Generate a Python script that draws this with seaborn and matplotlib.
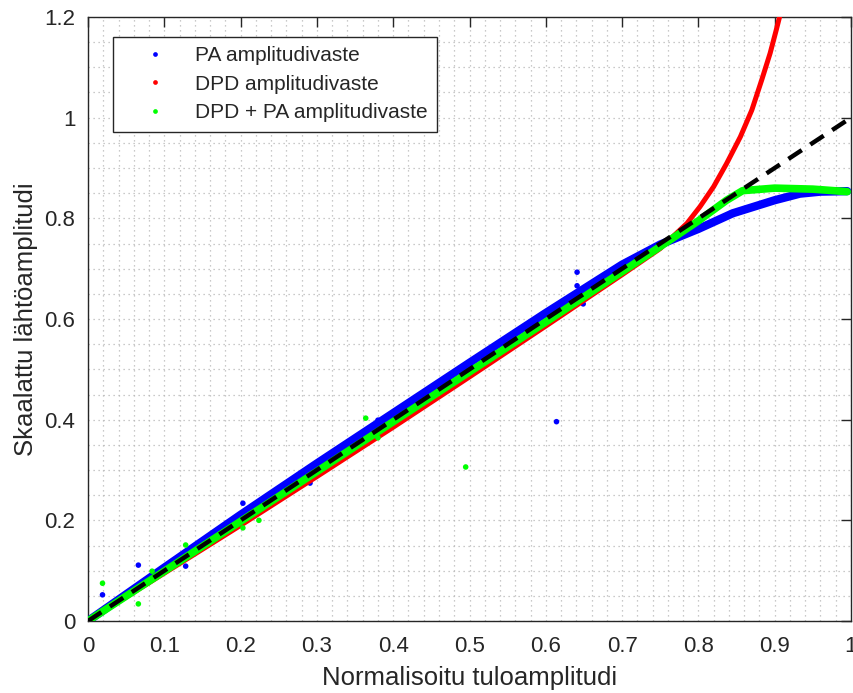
import numpy as np
import pandas as pd
import matplotlib
matplotlib.use("Agg")
import matplotlib.pyplot as plt
from matplotlib.lines import Line2D
from matplotlib.ticker import MultipleLocator
import seaborn as sns

# ---- data ----
pa_x = [0.0, 0.1, 0.2, 0.3, 0.4, 0.5, 0.6, 0.7, 0.75, 0.8, 0.845, 0.9, 0.933, 0.96, 0.995]
pa_y = [0.0, 0.106, 0.211, 0.313, 0.413, 0.513, 0.612, 0.708, 0.748, 0.779, 0.810, 0.836, 0.849, 0.853, 0.854]

dpd_x = [0.0, 0.1, 0.2, 0.3, 0.4, 0.5, 0.6, 0.7, 0.75, 0.785, 0.802, 0.820, 0.837,
         0.855, 0.870, 0.883, 0.894, 0.902, 0.907]
dpd_y = [0.0, 0.095, 0.190, 0.287, 0.385, 0.485, 0.586, 0.688, 0.740, 0.790, 0.823, 0.863, 0.909,
         0.962, 1.015, 1.075, 1.128, 1.174, 1.204]

dpdpa_x = [0.0, 0.1, 0.2, 0.3, 0.4, 0.5, 0.6, 0.7, 0.75, 0.8, 0.837, 0.858, 0.9, 0.95, 0.995]
dpdpa_y = [0.0, 0.099, 0.198, 0.297, 0.396, 0.495, 0.594, 0.694, 0.744, 0.795, 0.836, 0.855, 0.860, 0.858, 0.853]

pa_out_x = [0.019, 0.066, 0.128, 0.203, 0.291, 0.380, 0.614, 0.641, 0.641, 0.649]
pa_out_y = [0.052, 0.111, 0.109, 0.234, 0.274, 0.399, 0.396, 0.693, 0.666, 0.630]

dpdpa_out_x = [0.019, 0.066, 0.084, 0.128, 0.203, 0.224, 0.364, 0.380, 0.495]
dpdpa_out_y = [0.075, 0.034, 0.099, 0.151, 0.185, 0.200, 0.403, 0.364, 0.306]

ideal_x = [0.0, 1.0]
ideal_y = [0.0, 1.0]

labels = ["PA amplitudivaste", "DPD amplitudivaste", "DPD + PA amplitudivaste"]
x_label = "Normalisoitu tuloamplitudi"
y_label = "Skaalattu lähtöamplitudi"

# ---- style ----
sns.set_theme(style="white")
plt.rcParams["font.family"] = ["Liberation Sans", "DejaVu Sans"]
dark = "#262626"

fig = plt.figure(figsize=(8.54, 6.93), dpi=100)
ax = fig.add_axes([88 / 854, 72 / 693, 763 / 854, 604 / 693])

blue = "#0000ff"
red = "#ff0000"
green = "#00ff00"

pa_df = pd.DataFrame({"x": pa_x, "y": pa_y})
dpd_df = pd.DataFrame({"x": dpd_x, "y": dpd_y})
dpdpa_df = pd.DataFrame({"x": dpdpa_x, "y": dpdpa_y})

sns.lineplot(data=pa_df, x="x", y="y", ax=ax, color=blue, lw=6.0,
             sort=False, estimator=None, solid_capstyle="round",
             solid_joinstyle="round", zorder=3)
sns.scatterplot(x=pa_out_x, y=pa_out_y, ax=ax, color=blue, s=16,
                edgecolor="none", zorder=3)
sns.lineplot(data=dpd_df, x="x", y="y", ax=ax, color=red, lw=3.6,
             sort=False, estimator=None, solid_capstyle="round",
             solid_joinstyle="round", zorder=4)
sns.lineplot(data=dpdpa_df, x="x", y="y", ax=ax, color=green, lw=5.5,
             sort=False, estimator=None, solid_capstyle="round",
             solid_joinstyle="round", zorder=5)
sns.scatterplot(x=dpdpa_out_x, y=dpdpa_out_y, ax=ax, color=green, s=16,
                edgecolor="none", zorder=5)
ax.plot(ideal_x, ideal_y, color="black", lw=3.2, dashes=(3.6, 2.3), zorder=6)

ax.set_xlim(0, 1)
ax.set_ylim(0, 1.2)
ax.xaxis.set_major_locator(MultipleLocator(0.1))
ax.yaxis.set_major_locator(MultipleLocator(0.2))
ax.xaxis.set_minor_locator(MultipleLocator(0.02))
ax.yaxis.set_minor_locator(MultipleLocator(0.05))
ax.xaxis.set_major_formatter(plt.FuncFormatter(lambda v, p: f"{v:g}"))
ax.yaxis.set_major_formatter(plt.FuncFormatter(lambda v, p: f"{v:g}"))

ax.grid(which="both", color="#b8b8b8", linestyle=(0, (1, 3)), linewidth=0.9)
ax.set_axisbelow(True)

ax.tick_params(which="major", direction="in", length=7, width=1.0, color=dark,
               top=True, right=True, labelsize=16, labelcolor=dark)
ax.tick_params(axis="x", which="major", pad=11)
ax.tick_params(axis="y", which="major", pad=9)
ax.tick_params(which="minor", length=0, top=True, right=True)
for s in ax.spines.values():
    s.set_color(dark)
    s.set_linewidth(1.0)
    s.set_visible(True)

ax.set_xlabel(x_label, fontsize=18.5, color=dark, labelpad=6.5)
ax.set_ylabel(y_label, fontsize=18.5, color=dark, labelpad=5)

handles = [Line2D([], [], ls="none", marker="o", markersize=3.4, color=c,
                  markeredgecolor="none") for c in (blue, red, green)]
leg = ax.legend(handles, labels, loc="upper left",
                bbox_to_anchor=((113 - 88) / 763, (621 - 37) / 604),
                borderaxespad=0, frameon=True, fancybox=False, fontsize=15,
                handlelength=3.1, handletextpad=0.4, labelspacing=0.45,
                borderpad=0.45)
leg.get_frame().set_edgecolor(dark)
leg.get_frame().set_linewidth(1.0)
leg.get_frame().set_facecolor("white")
leg.get_frame().set_alpha(1)
for t in leg.get_texts():
    t.set_color(dark)

fig.savefig("out.png", dpi=100)
